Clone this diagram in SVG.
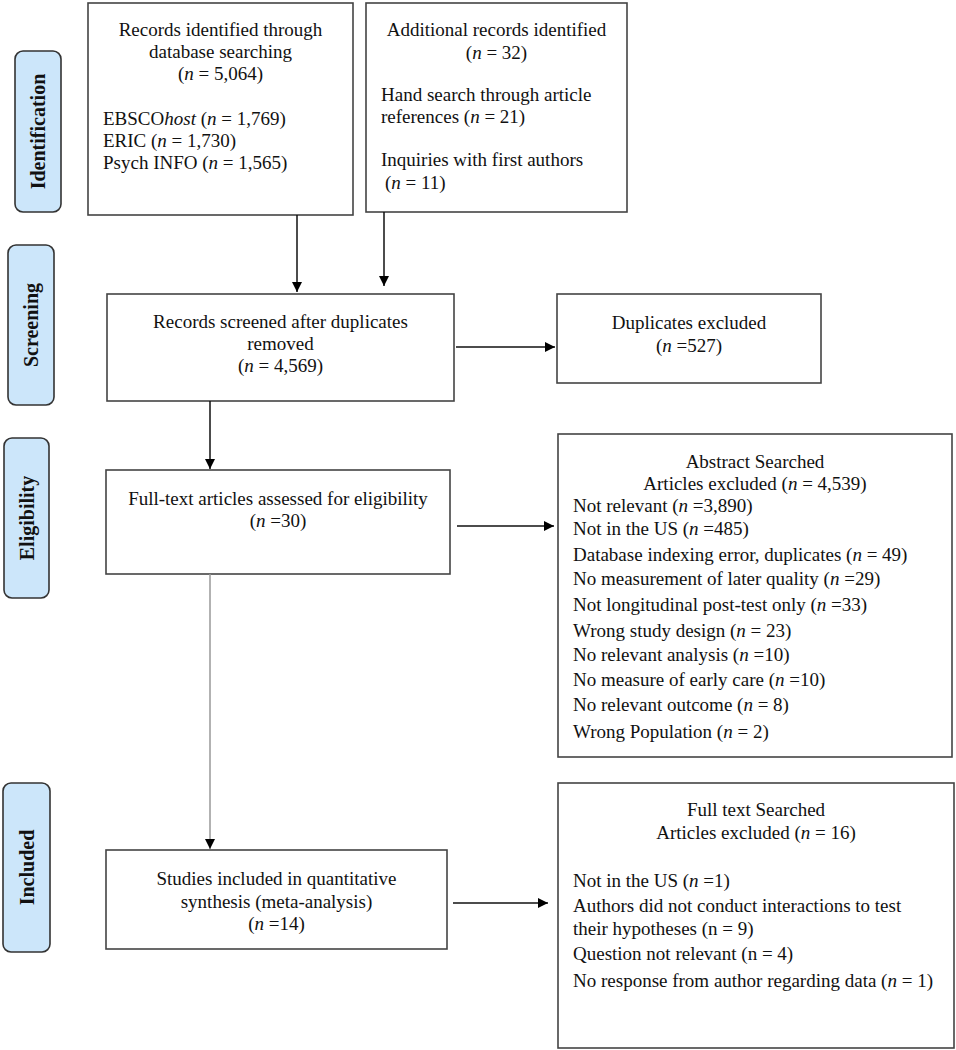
<svg xmlns="http://www.w3.org/2000/svg" width="956" height="1050" viewBox="0 0 956 1050">
<style>
  .box{fill:#fff;stroke:#444;stroke-width:1.6}
  .lab{fill:#cce6fa;stroke:#333;stroke-width:1.6}
  .t{font-family:"Liberation Serif","Times New Roman",serif;font-size:19px;fill:#111}
  .c{text-anchor:middle}
  .i{font-style:italic}
  .lt{font-family:"Liberation Serif","Times New Roman",serif;font-size:20px;font-weight:bold;fill:#111;text-anchor:middle}
  .ar{stroke:#111;stroke-width:1.5;fill:none}
  .gr{stroke:#999;stroke-width:1.5;fill:none}
</style>
<defs>
  <marker id="ah" viewBox="0 0 10 10" refX="10" refY="5" markerWidth="10" markerHeight="10" markerUnits="userSpaceOnUse" orient="auto">
    <path d="M0,0 L10,5 L0,10 z" fill="#000"/>
  </marker>
</defs>

<g id="stage-identification">
  <rect class="lab" x="15" y="51" width="46" height="161" rx="8"/>
  <text class="lt" transform="translate(38,131.5) rotate(-90)" y="7">Identification</text>
</g>
<g id="stage-screening">
  <rect class="lab" x="8" y="245" width="46" height="160" rx="8"/>
  <text class="lt" transform="translate(31,325) rotate(-90)" y="7">Screening</text>
</g>
<g id="stage-eligibility">
  <rect class="lab" x="4" y="438" width="45" height="160" rx="8"/>
  <text class="lt" transform="translate(26.5,518) rotate(-90)" y="7">Eligibility</text>
</g>
<g id="stage-included">
  <rect class="lab" x="3" y="783" width="47" height="169" rx="8"/>
  <text class="lt" transform="translate(26.5,867.5) rotate(-90)" y="7">Included</text>
</g>

<g id="records-identified">
  <rect class="box" x="88" y="3" width="265" height="212"/>
  <text class="t c" x="220.5" y="36">Records identified through</text>
  <text class="t c" x="220.5" y="58">database searching</text>
  <text class="t c" x="220.5" y="80">(<tspan class="i">n</tspan> = 5,064)</text>
  <text class="t" x="103" y="125">EBSCO<tspan class="i">host</tspan> (<tspan class="i">n</tspan> = 1,769)</text>
  <text class="t" x="103" y="147">ERIC (<tspan class="i">n</tspan> = 1,730)</text>
  <text class="t" x="103" y="169">Psych INFO (<tspan class="i">n</tspan> = 1,565)</text>
</g>

<g id="additional-records">
  <rect class="box" x="366" y="3" width="261" height="209"/>
  <text class="t c" x="496.5" y="36">Additional records identified</text>
  <text class="t c" x="496.5" y="59">(<tspan class="i">n</tspan> = 32)</text>
  <text class="t" x="381" y="101">Hand search through article</text>
  <text class="t" x="381" y="123">references (<tspan class="i">n</tspan> = 21)</text>
  <text class="t" x="381" y="166">Inquiries with first authors</text>
  <text class="t" x="385" y="189">(<tspan class="i">n</tspan> = 11)</text>
</g>

<g id="records-screened">
  <rect class="box" x="107" y="294" width="347" height="107"/>
  <text class="t c" x="280.5" y="328">Records screened after duplicates</text>
  <text class="t c" x="280.5" y="350">removed</text>
  <text class="t c" x="280.5" y="372">(<tspan class="i">n</tspan> = 4,569)</text>
</g>

<g id="duplicates-excluded">
  <rect class="box" x="557" y="294" width="264" height="89"/>
  <text class="t c" x="689" y="329">Duplicates excluded</text>
  <text class="t c" x="689" y="352">(<tspan class="i">n</tspan> =527)</text>
</g>

<g id="full-text-assessed">
  <rect class="box" x="106" y="470" width="344" height="104"/>
  <text class="t c" x="278" y="505">Full-text articles assessed for eligibility</text>
  <text class="t c" x="278" y="527">(<tspan class="i">n</tspan> =30)</text>
</g>

<g id="abstract-excluded">
  <rect class="box" x="558" y="434" width="394" height="323"/>
  <text class="t c" x="755" y="468">Abstract Searched</text>
  <text class="t c" x="755" y="490">Articles excluded (<tspan class="i">n</tspan> = 4,539)</text>
  <text class="t" x="573" y="512">Not relevant (<tspan class="i">n</tspan> =3,890)</text>
  <text class="t" x="573" y="535">Not in the US (<tspan class="i">n</tspan> =485)</text>
  <text class="t" x="573" y="561">Database indexing error, duplicates (<tspan class="i">n</tspan> = 49)</text>
  <text class="t" x="573" y="585">No measurement of later quality (<tspan class="i">n</tspan> =29)</text>
  <text class="t" x="573" y="611">Not longitudinal post-test only (<tspan class="i">n</tspan> =33)</text>
  <text class="t" x="573" y="637">Wrong study design (<tspan class="i">n</tspan> = 23)</text>
  <text class="t" x="573" y="661">No relevant analysis (<tspan class="i">n</tspan> =10)</text>
  <text class="t" x="573" y="686">No measure of early care (<tspan class="i">n</tspan> =10)</text>
  <text class="t" x="573" y="711">No relevant outcome (<tspan class="i">n</tspan> = 8)</text>
  <text class="t" x="573" y="738">Wrong Population (<tspan class="i">n</tspan> = 2)</text>
</g>

<g id="studies-included">
  <rect class="box" x="106" y="850" width="341" height="99"/>
  <text class="t c" x="276.5" y="885">Studies included in quantitative</text>
  <text class="t c" x="276.5" y="908">synthesis (meta-analysis)</text>
  <text class="t c" x="276.5" y="930">(<tspan class="i">n</tspan> =14)</text>
</g>

<g id="fulltext-excluded">
  <rect class="box" x="558" y="783" width="396" height="265"/>
  <text class="t c" x="756" y="816">Full text Searched</text>
  <text class="t c" x="756" y="839">Articles excluded (<tspan class="i">n</tspan> = 16)</text>
  <text class="t" x="573" y="887">Not in the US (<tspan class="i">n</tspan> =1)</text>
  <text class="t" x="573" y="912">Authors did not conduct interactions to test</text>
  <text class="t" x="573" y="935">their hypotheses (n = 9)</text>
  <text class="t" x="573" y="960">Question not relevant (n = 4)</text>
  <text class="t" x="573" y="987">No response from author regarding data (<tspan class="i">n</tspan> = 1)</text>
</g>

<g id="connectors">
  <line class="ar" x1="297" y1="215" x2="297" y2="292" marker-end="url(#ah)"/>
  <line class="ar" x1="384" y1="212" x2="384" y2="286" marker-end="url(#ah)"/>
  <line class="ar" x1="456" y1="347" x2="555" y2="347" marker-end="url(#ah)"/>
  <line class="ar" x1="210" y1="401" x2="210" y2="469" marker-end="url(#ah)"/>
  <line class="ar" x1="457" y1="526" x2="554" y2="526" marker-end="url(#ah)"/>
  <line class="gr" x1="210" y1="574" x2="210" y2="849" marker-end="url(#ah)"/>
  <line class="ar" x1="453" y1="903" x2="548" y2="903" marker-end="url(#ah)"/>
</g>
</svg>
